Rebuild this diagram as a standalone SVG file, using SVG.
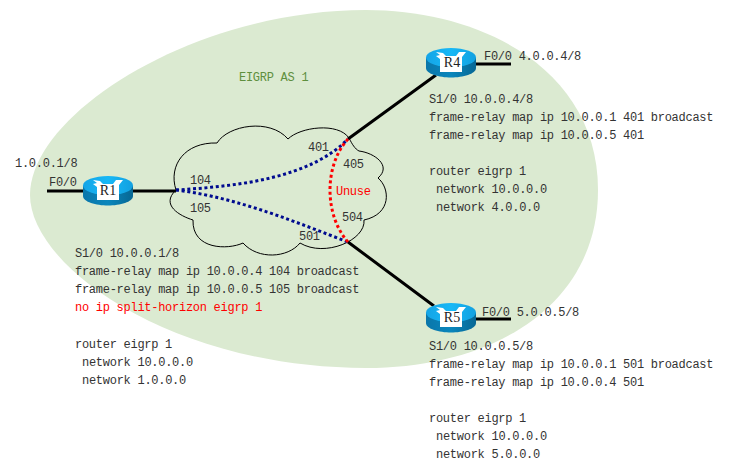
<svg xmlns="http://www.w3.org/2000/svg" xmlns:xlink="http://www.w3.org/1999/xlink" width="732" height="470" viewBox="0 0 732 470">
<style>
text{font-family:"Liberation Mono","DejaVu Sans Mono",monospace;font-size:12px;letter-spacing:-.27px;fill:#333}
.red{fill:#f00}
.g{fill:#5e8f3e}
.thick{stroke:#000;stroke-width:3;fill:none}
.blue{stroke:#000b8f;stroke-width:3;stroke-dasharray:3 2.700;fill:none}
.rd{stroke:#f00;stroke-width:3;stroke-dasharray:3 2.700;fill:none}
.rl{font-family:"Liberation Serif",serif;font-size:14px;letter-spacing:0;text-anchor:middle;fill:#222}
</style>
<defs>
<linearGradient id="side" x1="0" x2="1" y1="0" y2="0"><stop offset="0" stop-color="#0a76aa"/><stop offset=".5" stop-color="#0a86bc"/><stop offset="1" stop-color="#076794"/></linearGradient>
<linearGradient id="top" x1="0" x2="1" y1="0" y2="0"><stop offset="0" stop-color="#14a4e6"/><stop offset=".5" stop-color="#18b8f6"/><stop offset="1" stop-color="#12a0e0"/></linearGradient>
<g id="router">
<path d="M-25-5V5C-25 11-12 14.500 0 14.500S25 11 25 5V-5Z" fill="url(#side)"/>
<ellipse cx="0" cy="-5.500" rx="25" ry="9.500" fill="url(#top)"/>
<path d="M-15-11-8-10-5-7H5L8-11 15-11 11-6V9H-11V-4L-15-7-11-8Z" fill="#fff"/>
</g>
</defs>
<path id="area" d="M30 195C30 114 193 10 366 10C483 10 598 70 598 190C598 305 494 368 366 368C171 368 30 266 30 195Z" fill="#dbead1"/>
<g id="cloud"><path d="M176 190C168 165 185 142 217 143C228 125 270 118 288 139C300 127 338 122 349 138C352 144 355 149 359 151C375 153 392 166 378 178C390 188 392 214 364 220C366 240 325 258 300 243C288 258 258 260 243 243C228 250 192 250 193 220C180 216 160 205 176 190Z" fill="none" stroke="#000" stroke-width="1"/></g>
<g id="connectors">
<path class="thick" d="M47 191H84M132 191H176M476 64H511M476 319H511M348 139 436 75M348 242 434 306"/>
<path class="blue" d="M176 190C240 186 310 178 348 139"/>
<path class="blue" d="M176 190C240 198 300 224 348 242"/>
<path class="rd" d="M348 139C324 165 324 215 348 242"/>
</g>
<g id="R1"><use xlink:href="#router" x="108" y="191"/><text class="rl" x="108" y="195">R1</text></g>
<g id="R4"><use xlink:href="#router" x="451" y="63"/><text class="rl" x="452" y="67">R4</text></g>
<g id="R5"><use xlink:href="#router" x="451" y="318"/><text class="rl" x="452" y="322">R5</text></g>
<g id="labels">
<text class="g" x="239" y="81">EIGRP AS 1</text>
<text x="15" y="167">1.0.0.1/8</text>
<text x="49" y="186">F0/0</text>
<text x="484" y="60">F0/0 4.0.0.4/8</text>
<text x="482" y="316">F0/0 5.0.0.5/8</text>
<text x="190" y="184">104</text>
<text x="190" y="212">105</text>
<text x="308" y="151">401</text>
<text x="343" y="168">405</text>
<text x="342" y="221">504</text>
<text x="299" y="240">501</text>
<text class="red" x="336" y="195">Unuse</text>
<text x="429" y="103">S1/0 10.0.0.4/8</text>
<text x="429" y="121">frame-relay map ip 10.0.0.1 401 broadcast</text>
<text x="429" y="139">frame-relay map ip 10.0.0.5 401</text>
<text x="429" y="175">router eigrp 1</text>
<text x="436" y="193">network 10.0.0.0</text>
<text x="436" y="211">network 4.0.0.0</text>
<text x="75" y="257">S1/0 10.0.0.1/8</text>
<text x="75" y="275">frame-relay map ip 10.0.0.4 104 broadcast</text>
<text x="75" y="293">frame-relay map ip 10.0.0.5 105 broadcast</text>
<text class="red" x="75" y="311">no ip split-horizon eigrp 1</text>
<text x="75" y="348">router eigrp 1</text>
<text x="82" y="366">network 10.0.0.0</text>
<text x="82" y="384">network 1.0.0.0</text>
<text x="429" y="350">S1/0 10.0.0.5/8</text>
<text x="429" y="368">frame-relay map ip 10.0.0.1 501 broadcast</text>
<text x="429" y="386">frame-relay map ip 10.0.0.4 501</text>
<text x="429" y="422">router eigrp 1</text>
<text x="436" y="440">network 10.0.0.0</text>
<text x="436" y="458">network 5.0.0.0</text>
</g>
</svg>
